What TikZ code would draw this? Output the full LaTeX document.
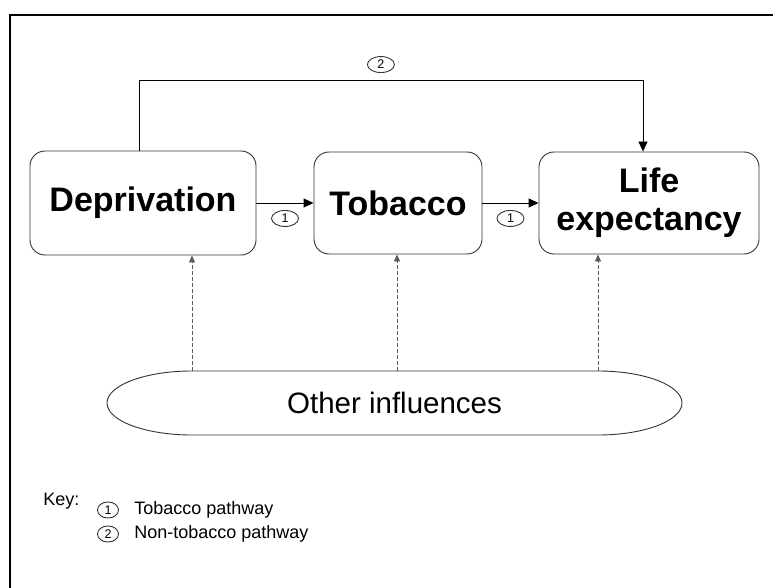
\documentclass[tikz,border=0pt]{standalone}
\usepackage{fontspec}
\setmainfont{Liberation Sans}
\usetikzlibrary{arrows.meta,positioning,shapes.geometric}

\begin{document}
\begin{tikzpicture}[x=1pt,y=-1pt,every path/.style={line width=0.9pt},
  box/.style={draw=black!80,rectangle,rounded corners=15pt,align=center,font=\fontsize{34}{38}\selectfont\bfseries},
  num/.style={draw=black!80,ellipse,minimum width=27pt,minimum height=16pt,inner sep=0pt,font=\fontsize{12.5}{12.5}\selectfont},
  keynum/.style={num,minimum width=21pt},
  keytext/.style={inner sep=0pt,font=\fontsize{18}{18}\selectfont},
  arr/.style={-{Triangle[length=10pt,width=9pt]}},
  infl/.style={draw=black!65,dash pattern=on 4pt off 2pt,-{Triangle[length=7pt,width=6pt]}}]

\useasboundingbox (0,0) rectangle (773,588);

\draw[line width=2pt] (10,588) -- (10,15) -- (773,15);

\node (depr) [box,minimum width=226pt,minimum height=104pt] at (143,203) {Deprivation};
\node (tob) [box,minimum width=168pt,minimum height=102pt] at (398,203) {Tobacco};
\node (life) [box,minimum width=220pt,minimum height=102pt] at (649,203) {Life\\expectancy};

\draw[draw=black!80] (192,371) -- (598,371) arc[start angle=-90,end angle=90,x radius=84,y radius=32]
  -- (192,435) arc[start angle=90,end angle=270,x radius=85,y radius=32] -- cycle;
\node (other) [font=\fontsize{29.5}{30}\selectfont] at (394.5,403) {Other influences};

\coordinate (o1) at (192,371);
\coordinate (o2) at (397,371);
\coordinate (o3) at (598,371);
\coordinate (bend) at (643,80);

\draw[arr] (depr.east) -- node (n1) [num,below=7pt] {1} (tob.west);
\draw[arr] (tob.east) -- node (n3) [num,below=7pt] {1} (life.west);
\draw[arr] ([xshift=-4pt]depr.north) |- node (n2) [num,pos=0.74,above=7pt] {2} (bend) -- (life.north -| bend);

\draw[infl] (o1) -- (o1 |- depr.south);
\draw[infl] (o2) -- (o2 |- tob.south);
\draw[infl] (o3) -- (o3 |- life.south);

\node (key) [keytext,anchor=base west] at (43,505) {Key:};
\node (k1) [keynum] at (108,510) {1};
\node (k2) [keynum] at (108,534) {2};
\node (t1) [keytext,right=15pt of k1] {Tobacco pathway};
\node (t2) [keytext,right=15pt of k2] {Non-tobacco pathway};

\end{tikzpicture}
\end{document}
